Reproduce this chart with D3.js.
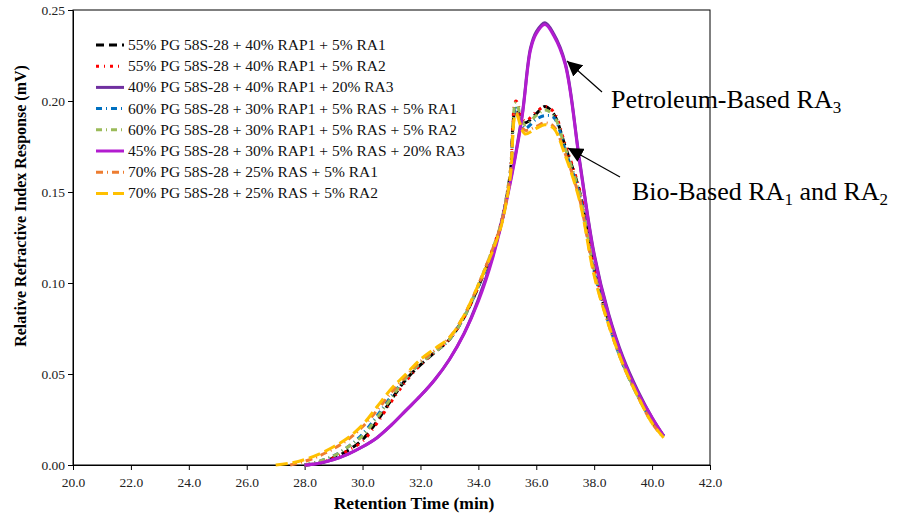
<html>
<head>
<script src="https://cdn.jsdelivr.net/npm/d3@7"></script>
<style>
body { margin: 0; background: #fff; }
text { font-family: "Liberation Serif", "Times New Roman", serif; }
</style>
</head>
<body>
<script>
// retention time grids (min)
var bioTime = [27.0, 27.5, 28.0, 28.5, 29.0, 29.5, 30.0, 30.5, 31.0, 31.5, 32.0, 32.5, 33.0, 33.5, 34.0, 34.5,
               34.8, 35.1, 35.3, 35.6, 36.0, 36.3, 36.6, 37.0, 37.5, 38.0, 38.5, 39.0, 39.5, 40.0, 40.4];
var ra3Time = [28.0, 28.5, 29.0, 29.5, 30.0, 30.5, 31.0, 31.5, 32.0, 32.5, 33.0, 33.5, 34.0, 34.5, 35.0, 35.5,
               35.8, 36.0, 36.3, 36.6, 37.0, 37.5, 38.0, 38.5, 39.0, 39.5, 40.0, 40.4];

// response values (mV)
var pg55ra1 = [null, null, 0.000, 0.001, 0.004, 0.008, 0.014, 0.024, 0.036, 0.047, 0.055, 0.062, 0.069, 0.081, 0.098, 0.118,
               0.133, 0.160, 0.195, 0.188, 0.193, 0.197, 0.193, 0.175, 0.150, 0.108, 0.079, 0.056, 0.039, 0.024, 0.016];
var pg55ra2 = [null, null, 0.000, 0.001, 0.004, 0.008, 0.013, 0.023, 0.035, 0.046, 0.055, 0.062, 0.069, 0.081, 0.098, 0.119,
               0.134, 0.161, 0.200, 0.189, 0.194, 0.197, 0.194, 0.176, 0.151, 0.109, 0.079, 0.056, 0.039, 0.024, 0.016];
var pg40ra3 = [0.000, 0.001, 0.003, 0.006, 0.010, 0.015, 0.022, 0.030, 0.038, 0.047, 0.058, 0.072, 0.091, 0.115, 0.148, 0.191,
               0.229, 0.238, 0.243, 0.237, 0.221, 0.167, 0.116, 0.083, 0.059, 0.041, 0.026, 0.016];
var pg60ra1 = [null, null, 0.000, 0.002, 0.005, 0.010, 0.017, 0.027, 0.038, 0.048, 0.056, 0.062, 0.069, 0.081, 0.098, 0.118,
               0.133, 0.160, 0.196, 0.185, 0.190, 0.192, 0.191, 0.173, 0.148, 0.106, 0.078, 0.055, 0.038, 0.024, 0.016];
var pg60ra2 = [null, null, 0.000, 0.002, 0.005, 0.010, 0.016, 0.026, 0.037, 0.048, 0.056, 0.062, 0.069, 0.081, 0.099, 0.119,
               0.134, 0.161, 0.199, 0.187, 0.192, 0.195, 0.192, 0.174, 0.149, 0.107, 0.078, 0.056, 0.038, 0.024, 0.016];
var pg45ra3 = [0.000, 0.001, 0.003, 0.006, 0.010, 0.015, 0.022, 0.030, 0.038, 0.047, 0.058, 0.072, 0.090, 0.114, 0.147, 0.190,
               0.228, 0.237, 0.242, 0.236, 0.220, 0.166, 0.115, 0.082, 0.058, 0.040, 0.026, 0.016];
var pg70ra1 = [null, 0.000, 0.002, 0.005, 0.009, 0.014, 0.021, 0.030, 0.040, 0.049, 0.057, 0.063, 0.070, 0.082, 0.099, 0.119,
               0.133, 0.159, 0.194, 0.184, 0.186, 0.188, 0.186, 0.171, 0.146, 0.105, 0.077, 0.055, 0.038, 0.023, 0.015];
var pg70ra2 = [0.000, 0.001, 0.003, 0.006, 0.010, 0.015, 0.022, 0.032, 0.042, 0.050, 0.058, 0.064, 0.070, 0.082, 0.099, 0.118,
               0.132, 0.158, 0.193, 0.182, 0.185, 0.187, 0.185, 0.170, 0.145, 0.104, 0.077, 0.055, 0.038, 0.023, 0.015];

var seriesNames = [
  '55% PG 58S-28 + 40% RAP1 + 5% RA1',
  '55% PG 58S-28 + 40% RAP1 + 5% RA2',
  '40% PG 58S-28 + 40% RAP1 + 20% RA3',
  '60% PG 58S-28 + 30% RAP1 + 5% RAS + 5% RA1',
  '60% PG 58S-28 + 30% RAP1 + 5% RAS + 5% RA2',
  '45% PG 58S-28 + 30% RAP1 + 5% RAS + 20% RA3',
  '70% PG 58S-28 + 25% RAS + 5% RA1',
  '70% PG 58S-28 + 25% RAS + 5% RA2'
];
var xTicks = [20, 22, 24, 26, 28, 30, 32, 34, 36, 38, 40, 42];
var yTicks = [0, 0.05, 0.10, 0.15, 0.20, 0.25];

// styling per series
var colors = ['#000000', '#ff0000', '#7030a0', '#0070c0', '#9bbb59', '#b21ccf', '#ed7d31', '#ffc000'];
var dashes = ['8,5', '3,5,1,5', null, '6,4,1,4', '6,4,1,4', null, '7,4,1,4', '12,5'];

var series = [
  { t: bioTime, v: pg55ra1 }, { t: bioTime, v: pg55ra2 }, { t: ra3Time, v: pg40ra3 },
  { t: bioTime, v: pg60ra1 }, { t: bioTime, v: pg60ra2 }, { t: ra3Time, v: pg45ra3 },
  { t: bioTime, v: pg70ra1 }, { t: bioTime, v: pg70ra2 }
];

var W = 897, H = 516;
var plotL = 73, plotR = 710, plotT = 10, plotB = 465;

var svg = d3.select('body').append('svg')
  .attr('width', W)
  .attr('height', H);

var x = d3.scaleLinear().domain([20, 42]).range([plotL, plotR]);
var y = d3.scaleLinear().domain([0, 0.25]).range([plotB, plotT]);

// frame
svg.append('rect')
  .attr('x', plotL).attr('y', plotT)
  .attr('width', plotR - plotL).attr('height', plotB - plotT)
  .attr('fill', 'none').attr('stroke', '#000').attr('stroke-width', 1);

var xAxis = svg.append('g')
  .attr('transform', 'translate(0,' + plotB + ')')
  .call(d3.axisBottom(x).tickValues(xTicks).tickFormat(d3.format('.1f')).tickSize(5).tickSizeOuter(0));
var yAxis = svg.append('g')
  .attr('transform', 'translate(' + plotL + ',0)')
  .call(d3.axisLeft(y).tickValues(yTicks).tickFormat(d3.format('.2f')).tickSize(5).tickSizeOuter(0));

[xAxis, yAxis].forEach(function(a) {
  a.select('.domain').attr('stroke', '#000');
  a.selectAll('text')
    .attr('font-family', '"Liberation Serif", serif')
    .attr('font-size', 13.5)
    .attr('fill', '#222');
});
xAxis.selectAll('text').attr('dy', '1.05em');

var line = d3.line()
  .defined(function(d) { return d[1] !== null; })
  .x(function(d) { return x(d[0]); })
  .y(function(d) { return y(d[1]); })
  .curve(d3.curveCatmullRom.alpha(0.5));

series.forEach(function(s, i) {
  var pts = s.t.map(function(t, j) { return [t, s.v[j]]; });
  svg.append('path')
    .attr('d', line(pts))
    .attr('fill', 'none')
    .attr('stroke', colors[i])
    .attr('stroke-width', 3)
    .attr('stroke-dasharray', dashes[i])
    .attr('stroke-linecap', 'butt');
});

// legend
var legend = svg.append('g');
seriesNames.forEach(function(name, i) {
  var ly = 45 + i * 21.2;
  legend.append('line')
    .attr('x1', 96).attr('x2', 124)
    .attr('y1', ly).attr('y2', ly)
    .attr('stroke', colors[i])
    .attr('stroke-width', 3)
    .attr('stroke-dasharray', dashes[i]);
  legend.append('text')
    .attr('x', 128).attr('y', ly + 5)
    .attr('font-size', 15.5)
    .attr('fill', '#111')
    .text(name);
});

// axis titles
svg.append('text')
  .attr('x', 414).attr('y', 509)
  .attr('text-anchor', 'middle')
  .attr('font-size', 17.5).attr('font-weight', 'bold')
  .text('Retention Time (min)');
svg.append('text')
  .attr('transform', 'translate(26,206) rotate(-90)')
  .attr('text-anchor', 'middle')
  .attr('font-size', 16).attr('font-weight', 'bold')
  .text('Relative Refractive Index Response (mV)');

// annotations
svg.append('defs').append('marker')
  .attr('id', 'arr')
  .attr('viewBox', '0 0 10 10')
  .attr('refX', 10).attr('refY', 5)
  .attr('markerWidth', 15).attr('markerHeight', 15)
  .attr('markerUnits', 'userSpaceOnUse')
  .attr('orient', 'auto')
  .append('path').attr('d', 'M0,0 L10,5 L0,10 z').attr('fill', '#000');

svg.append('line')
  .attr('x1', 602).attr('y1', 92).attr('x2', 567).attr('y2', 61)
  .attr('stroke', '#000').attr('stroke-width', 1.2)
  .attr('marker-end', 'url(#arr)');
svg.append('line')
  .attr('x1', 620).attr('y1', 177).attr('x2', 568).attr('y2', 148)
  .attr('stroke', '#000').attr('stroke-width', 1.2)
  .attr('marker-end', 'url(#arr)');

var t1 = svg.append('text').attr('x', 611).attr('y', 108).attr('font-size', 26);
t1.append('tspan').text('Petroleum-Based RA');
t1.append('tspan').attr('font-size', 17).attr('dy', 5).text('3');

var t2 = svg.append('text').attr('x', 632).attr('y', 200).attr('font-size', 26);
t2.append('tspan').text('Bio-Based RA');
t2.append('tspan').attr('font-size', 17).attr('dy', 5).text('1');
t2.append('tspan').attr('dy', -5).text(' and RA');
t2.append('tspan').attr('font-size', 17).attr('dy', 5).text('2');
</script>
</body>
</html>
